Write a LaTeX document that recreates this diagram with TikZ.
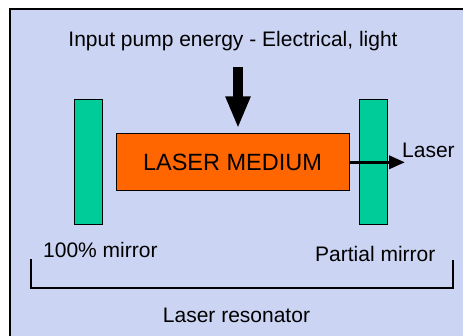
\documentclass[tikz,border=0pt]{standalone}
\usepackage{fontspec}
\setmainfont{Liberation Sans}
\usetikzlibrary{arrows.meta}
\definecolor{bgblue}{RGB}{203,212,243}
\definecolor{mirrorgreen}{RGB}{0,204,153}
\definecolor{mediumorange}{RGB}{255,102,0}
\tikzset{
  mirror/.style={draw=black, line width=0.8pt, fill=mirrorgreen, minimum width=28pt, minimum height=125pt, inner sep=0pt},
  medium/.style={draw=black, line width=0.8pt, fill=mediumorange, minimum width=233pt, minimum height=57pt, inner sep=0pt, font=\fontsize{23.5}{28}\selectfont},
  lbl/.style={inner sep=0pt, font=\fontsize{21}{25}\selectfont},
}
\begin{document}
\begin{tikzpicture}[x=1pt,y=-1pt]
\useasboundingbox (0,0) rectangle (463,335);
\clip (0,0) rectangle (463,335);
\fill[white] (0,0) rectangle (463,335);
\draw[line width=1.5pt, fill=bgblue] (10,9) rectangle (475,350);

\node[lbl, anchor=base] (title) at (233,46) {Input pump energy - Electrical, light};
\node[mirror] (lm) at (88,162.3) {};
\node[mirror] (rm) at (373.5,162.3) {};
\node[medium] (med) at (232.5,162.3) {LASER MEDIUM};

\coordinate (pumpstart) at (238,67);
\draw[line width=10pt, -{Triangle[width=23pt,length=32pt]}, shorten >=5pt] (pumpstart) -- (pumpstart |- med.north);

\coordinate (laserend) at (405,162.3);
\draw[line width=3.5pt, -{Triangle[width=13pt,length=16pt]}] (med.east) -- (laserend);

\node[lbl, anchor=base west] (laser) at (402,157) {Laser};
\node[lbl, anchor=base west] (lmlabel) at (43,257) {100\% mirror};
\node[lbl, anchor=base west] (rmlabel) at (315,261) {Partial mirror};

\coordinate (b1) at (31,259);
\coordinate (b2) at (31,288);
\coordinate (b3) at (453,288);
\coordinate (b4) at (453,260);
\draw[line width=1.5pt] (b1) -- (b2) -- (b3) -- (b4);
\node[lbl, anchor=base] (reso) at (236.5,322) {Laser resonator};
\end{tikzpicture}
\end{document}
